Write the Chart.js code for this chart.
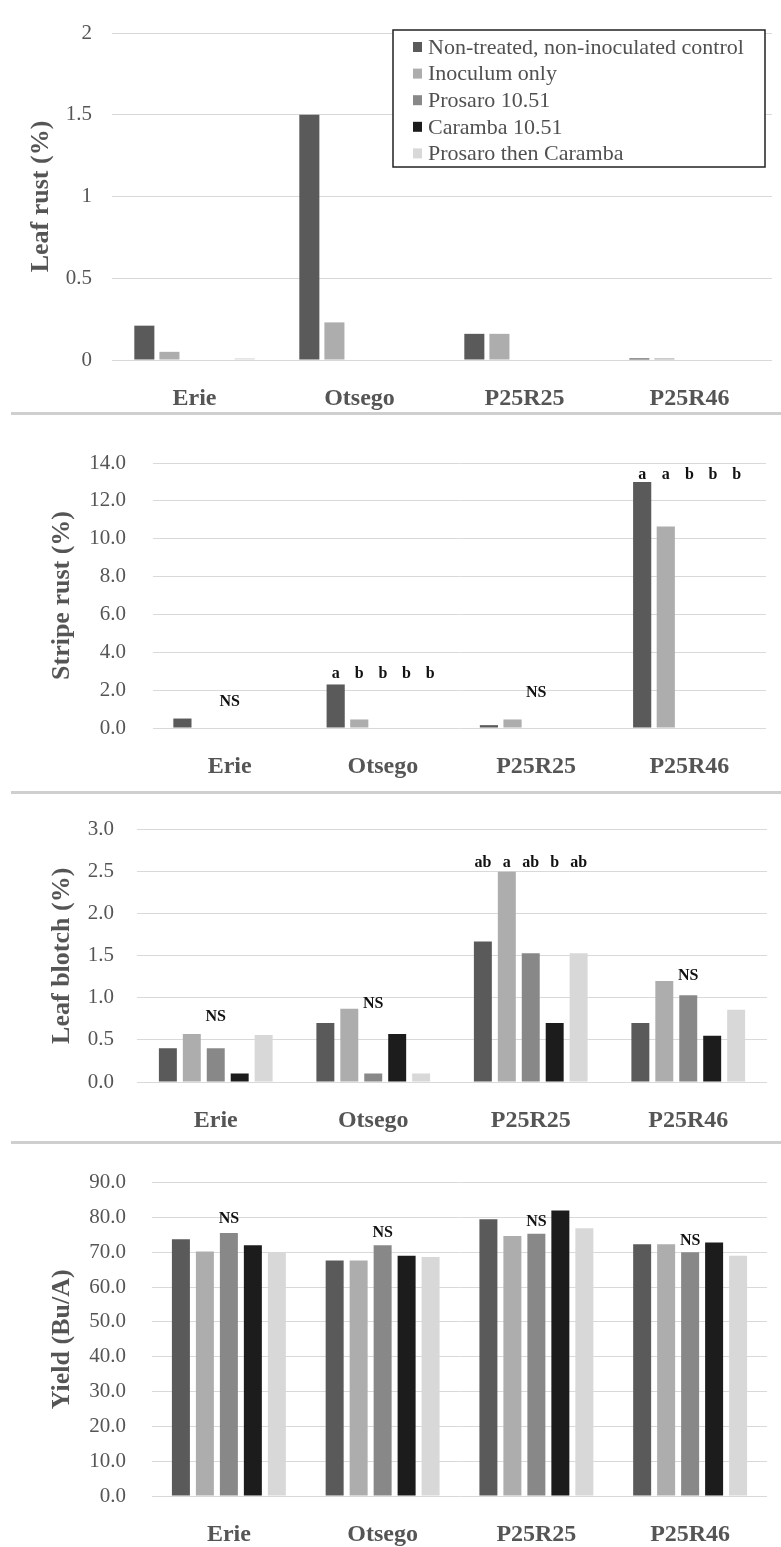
<!DOCTYPE html>
<html>
<head>
<meta charset="utf-8">
<script src="https://cdn.jsdelivr.net/npm/chart.js@4.4.1/dist/chart.umd.min.js"></script>
<style>
  body { margin: 0; background: #fff; }
  #page { position: relative; width: 781px; height: 1547px; overflow: hidden; }
  canvas { position: absolute; left: 0; }
  .sep { position: absolute; left: 11px; width: 770px; height: 0; border-top: 3px solid #cfcfcf; }
</style>
</head>
<body>
<div id="page">
  <canvas id="leafRust" width="781" height="412" style="top:0px"></canvas>
  <div class="sep" style="top:412px"></div>
  <canvas id="stripeRust" width="781" height="377" style="top:415px"></canvas>
  <div class="sep" style="top:791px"></div>
  <canvas id="leafBlotch" width="781" height="348" style="top:794px"></canvas>
  <div class="sep" style="top:1141px"></div>
  <canvas id="yield" width="781" height="403" style="top:1144px"></canvas>
</div>
<script>
// Categories and treatments
const categories = ['Erie', 'Otsego', 'P25R25', 'P25R46'];
const treatments = ['Non-treated, non-inoculated control', 'Inoculum only', 'Prosaro 10.51', 'Caramba 10.51', 'Prosaro then Caramba'];
const barColors = ['#5a5a5a', '#adadad', '#888888', '#1c1c1c', '#d8d8d8'];

// Leaf rust (%) - one array per treatment, values per category
const leafRustControl = [0.21, 1.5, 0.16, 0.01];
const leafRustInoculum = [0.05, 0.23, 0.16, 0.01];
const leafRustProsaro = [0, 0, 0, 0];
const leafRustCaramba = [0, 0, 0, 0];
const leafRustBoth = [0.01, 0, 0, 0];

// Stripe rust (%)
const stripeControl = [0.5, 2.3, 0.15, 13.0];
const stripeInoculum = [0, 0.45, 0.45, 10.65];
const stripeProsaro = [0, 0, 0, 0];
const stripeCaramba = [0, 0, 0, 0];
const stripeBoth = [0, 0, 0, 0];
const stripeLetters = ['NS', 'a b b b b', 'NS', 'a a b b b'];
const stripeLetterLevels = [1.38, 2.86, 1.86, 13.37];

// Leaf blotch (%)
const blotchControl = [0.4, 0.7, 1.67, 0.7];
const blotchInoculum = [0.57, 0.87, 2.5, 1.2];
const blotchProsaro = [0.4, 0.1, 1.53, 1.03];
const blotchCaramba = [0.1, 0.57, 0.7, 0.55];
const blotchBoth = [0.56, 0.1, 1.53, 0.86];
const blotchLetters = ['NS', 'NS', 'ab a ab b ab', 'NS'];
const blotchLetterLevels = [0.78, 0.93, 2.61, 1.26];

// Yield (Bu/A)
const yieldControl = [73.7, 67.6, 79.5, 72.3];
const yieldInoculum = [70.2, 67.6, 74.7, 72.3];
const yieldProsaro = [75.5, 72.0, 75.3, 70.0];
const yieldCaramba = [72.0, 69.0, 82.0, 72.8];
const yieldBoth = [69.9, 68.6, 76.9, 69.0];
const yieldLetters = ['NS', 'NS', 'NS', 'NS'];
const yieldLetterLevels = [79.7, 75.5, 78.8, 73.3];

const serif = '"Liberation Serif", "DejaVu Serif", serif';


// Significance letters above the bars (NS centred on the group)
const letterPlugin = {
  id: 'letters',
  afterDatasetsDraw(chart, args, opts) {
    if (!opts.labels) return;
    const ctx = chart.ctx;
    const yScale = chart.scales.y;
    ctx.save();
    ctx.font = 'bold 16px ' + serif;
    ctx.fillStyle = '#111';
    ctx.textAlign = 'center';
    ctx.textBaseline = 'middle';
    opts.labels.forEach(function(txt, j) {
      const parts = txt.split(' ');
      const py = yScale.getPixelForValue(opts.levels[j]);
      if (parts.length === 1) {
        const first = chart.getDatasetMeta(0).data[j].x;
        const last = chart.getDatasetMeta(4).data[j].x;
        ctx.fillText(txt, (first + last) / 2, py);
      } else {
        parts.forEach(function(p, i) {
          ctx.fillText(p, chart.getDatasetMeta(i).data[j].x, py);
        });
      }
    });
    ctx.restore();
  }
};


// Boxed legend in the top right corner of the first panel
const boxLegendPlugin = {
  id: 'boxLegend',
  afterDraw(chart, args, opts) {
    if (!opts.box) return;
    const ctx = chart.ctx;
    const b = opts.box;
    ctx.save();
    ctx.fillStyle = '#fff';
    ctx.fillRect(b.x, b.y, b.w, b.h);
    ctx.strokeStyle = '#222';
    ctx.lineWidth = 1.5;
    ctx.strokeRect(b.x, b.y, b.w, b.h);
    ctx.font = '22px ' + serif;
    ctx.textBaseline = 'middle';
    chart.data.datasets.forEach(function(ds, i) {
      const cy = b.y + 17 + i * 26.6;
      ctx.fillStyle = ds.backgroundColor;
      ctx.fillRect(b.x + 20, cy - 5, 9, 10);
      ctx.fillStyle = '#505050';
      ctx.fillText(ds.label, b.x + 35, cy + 1);
    });
    ctx.restore();
  }
};


// Build one panel
function makePanel(canvasId, series, cfg) {
  const datasets = series.map(function(values, i) {
    return {
      label: treatments[i],
      data: values,
      backgroundColor: barColors[i],
      barPercentage: cfg.barPct,
      categoryPercentage: cfg.catPct
    };
  });

  return new Chart(document.getElementById(canvasId), {
    type: 'bar',
    data: { labels: categories, datasets: datasets },
    plugins: [letterPlugin, boxLegendPlugin],
    options: {
      responsive: false,
      animation: false,
      devicePixelRatio: 1,
      layout: { padding: cfg.padding },
      plugins: {
        legend: { display: false },
        tooltip: { enabled: false },
        letters: { labels: cfg.letters, levels: cfg.levels },
        boxLegend: { box: cfg.legendBox }
      },
      scales: {
        x: {
          grid: { display: false },
          border: { display: false },
          ticks: {
            padding: 16,
            color: '#555',
            font: { family: serif, size: 24, weight: 'bold' }
          },
          afterFit: function(s) { s.height = 50; }
        },
        y: {
          min: 0,
          max: cfg.max,
          grid: { color: '#d9d9d9', drawTicks: false },
          border: { display: false },
          ticks: {
            stepSize: cfg.step,
            padding: cfg.tickPad,
            color: '#555',
            font: { family: serif, size: 21 },
            callback: cfg.format
          },
          title: {
            display: true,
            text: cfg.title,
            color: '#555',
            padding: { top: cfg.titlePad },
            font: { family: serif, size: 26, weight: 'bold' }
          },
          afterFit: function(s) { s.width = cfg.axisWidth; }
        }
      }
    }
  });
}

function oneDecimal(v) { return v.toFixed(1); }
function plain(v) { return String(v); }

window.onload = function() {
  makePanel('leafRust',
    [leafRustControl, leafRustInoculum, leafRustProsaro, leafRustCaramba, leafRustBoth], {
    title: 'Leaf rust (%)', max: 2, step: 0.5, format: plain,
    axisWidth: 112, tickPad: 20, titlePad: 26,
    padding: { top: 33, right: 9, left: 0, bottom: 2 },
    barPct: 0.8, catPct: 0.76,
    legendBox: { x: 393, y: 30, w: 372, h: 137 }
  });

  makePanel('stripeRust',
    [stripeControl, stripeInoculum, stripeProsaro, stripeCaramba, stripeBoth], {
    title: 'Stripe rust (%)', max: 14, step: 2, format: oneDecimal,
    axisWidth: 153, tickPad: 27, titlePad: 47,
    padding: { top: 48, right: 15, left: 0, bottom: 14 },
    barPct: 0.77, catPct: 0.77,
    letters: stripeLetters, levels: stripeLetterLevels
  });

  makePanel('leafBlotch',
    [blotchControl, blotchInoculum, blotchProsaro, blotchCaramba, blotchBoth], {
    title: 'Leaf blotch (%)', max: 3, step: 0.5, format: oneDecimal,
    axisWidth: 137, tickPad: 23, titlePad: 47,
    padding: { top: 28, right: 14, left: 0, bottom: 10 },
    barPct: 0.75, catPct: 0.76,
    letters: blotchLetters, levels: blotchLetterLevels
  });

  makePanel('yield',
    [yieldControl, yieldInoculum, yieldProsaro, yieldCaramba, yieldBoth], {
    title: 'Yield (Bu/A)', max: 90, step: 10, format: oneDecimal,
    axisWidth: 152, tickPad: 26, titlePad: 47,
    padding: { top: 29, right: 14, left: 0, bottom: 1 },
    barPct: 0.75, catPct: 0.78,
    letters: yieldLetters, levels: yieldLetterLevels
  });
};
</script>
</body>
</html>
